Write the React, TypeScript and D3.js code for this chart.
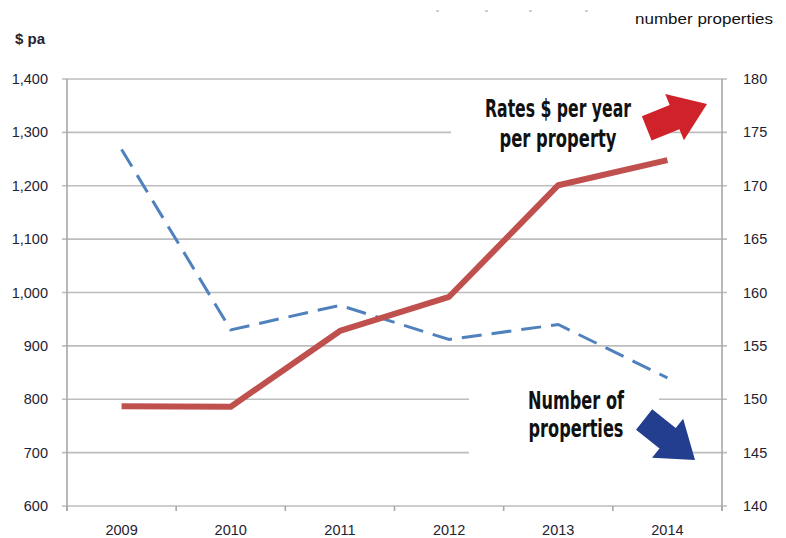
import * as d3 from 'd3';

const years = ['2009', '2010', '2011', '2012', '2013', '2014'];
const ratesPerProperty = [787, 786, 928, 992, 1201, 1248];
const numberProperties = [173.4, 156.5, 158.8, 155.6, 157.0, 152.0];
const leftTicks = [600, 700, 800, 900, 1000, 1100, 1200, 1300, 1400];
const rightTicks = [140, 145, 150, 155, 160, 165, 170, 175, 180];

const W = 786;
const H = 538;
const left = 67;
const right = 722;
const top = 79;
const bottom = 506;

const tickFont = '"Liberation Sans", Arial, sans-serif';
const noteFont = '"Liberation Sans Narrow", "DejaVu Sans Condensed", "Open Sans", sans-serif';

function App() {
  const x = d3.scaleBand().domain(years).range([left, right]);
  const yL = d3.scaleLinear().domain([600, 1400]).range([bottom, top]);
  const yR = d3.scaleLinear().domain([140, 180]).range([bottom, top]);
  const cx = (d: string) => (x(d) as number) + x.bandwidth() / 2;

  const redLine = d3.line<number>()
    .x((_, i) => cx(years[i]))
    .y(v => yL(v));
  const blueLine = d3.line<number>()
    .x((_, i) => cx(years[i]))
    .y(v => yR(v));

  const bounds = years.map(d => x(d) as number).concat([right]);

  // block arrow pointing along +x, tip at origin
  const arrow = 'M-65,-13 L-35,-13 L-35,-25 L0,0 L-35,25 L-35,13 L-65,13 Z';

  return (
    <svg width={W} height={H} style={{ display: 'block', position: 'absolute', left: 0, top: 0 }}>
      <rect width={W} height={H} fill="#fff" />

      {/* cropped title remnants */}
      <g stroke="#9a9a9a" strokeWidth={1}>
        <line x1={436} x2={439} y1={11} y2={11} />
        <line x1={485} x2={488} y1={11} y2={11} />
        <line x1={529} x2={532} y1={11} y2={11} />
        <line x1={585} x2={588} y1={11} y2={11} />
      </g>

      {/* gridlines */}
      <g stroke="#bdbdbd" strokeWidth={1.6}>
        {leftTicks.map(t => (
          <line key={t} x1={left - 5} x2={right + 5} y1={yL(t)} y2={yL(t)} />
        ))}
      </g>

      {/* axes */}
      <g stroke="#a8a8a8" strokeWidth={1.6}>
        <line x1={left} x2={left} y1={top} y2={bottom + 5} />
        <line x1={right} x2={right} y1={top} y2={bottom + 5} />
        {bounds.map((b, i) => (
          <line key={i} x1={b} x2={b} y1={bottom} y2={bottom + 5} />
        ))}
      </g>

      {/* tick labels */}
      <g fontFamily={tickFont} fontSize={14.5} fill="#1e2233">
        {leftTicks.map(t => (
          <text key={t} x={48} y={yL(t) + 5} textAnchor="end">{d3.format(',')(t)}</text>
        ))}
        {rightTicks.map(t => (
          <text key={t} x={743} y={yR(t) + 5}>{t}</text>
        ))}
        {years.map(d => (
          <text key={d} x={cx(d)} y={535} textAnchor="middle">{d}</text>
        ))}
        <text x={15} y={44} fontWeight="bold" fontSize={15}>$ pa</text>
        <text x={635} y={24} fontSize={15.5} fill="#111" textLength={138} lengthAdjust="spacingAndGlyphs">number properties</text>
      </g>

      {/* series */}
      <path d={blueLine(numberProperties) ?? ''} fill="none" stroke="#4f81bd" strokeWidth={3}
        strokeDasharray="20 10" />
      <path d={redLine(ratesPerProperty) ?? ''} fill="none" stroke="#c0504d" strokeWidth={6}
        strokeLinejoin="round" />

      {/* annotations */}
      <rect x={451} y={90} width={200} height={62} fill="#fff" />
      <rect x={469} y={382} width={190} height={76} fill="#fff" />
      <g fontFamily={noteFont} fontWeight="bold" fontSize={24} fill="#111" textAnchor="middle">
        <text x={558} y={117} textLength={146} lengthAdjust="spacingAndGlyphs">Rates $ per year</text>
        <text x={558} y={147} textLength={117} lengthAdjust="spacingAndGlyphs">per property</text>
        <text x={576} y={409} textLength={96} lengthAdjust="spacingAndGlyphs">Number of</text>
        <text x={576} y={437} textLength={95} lengthAdjust="spacingAndGlyphs">properties</text>
      </g>
      <path d={arrow} fill="#d0222a" transform="translate(707,104) rotate(-22)" />
      <path d={arrow} fill="#233e8e" transform="translate(695,460) rotate(38.5)" />
    </svg>
  );
}

export default App;
